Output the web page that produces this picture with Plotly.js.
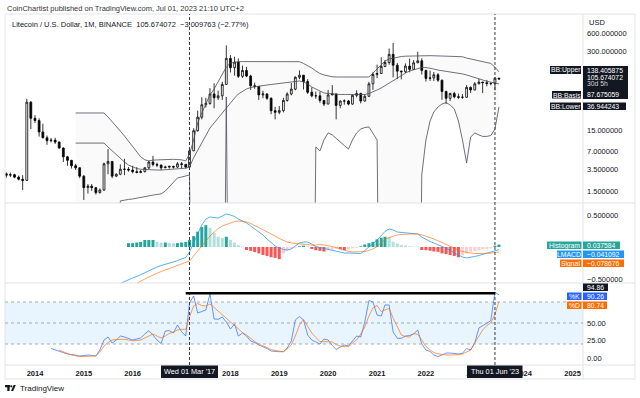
<!DOCTYPE html>
<html><head><meta charset="utf-8">
<script src="https://cdn.plot.ly/plotly-3.0.1.min.js"></script>
<style>html,body{margin:0;padding:0;background:#fff;}#chart{width:640px;height:398px;}</style>
</head><body><div id="chart"></div>
<script>
// ---------- categories: monthly bars Jun 2013 .. Jul 2023 ----------
const firstYear = 2013, firstMonth = 6, nMonths = 122;
const months = [];
for (let k = 0; k < nMonths; k++) { const m = firstMonth - 1 + k; months.push((firstYear + Math.floor(m / 12)) + '-' + String(m % 12 + 1).padStart(2, '0') + '-01'); }

// ---------- price (LTC/USD monthly) ----------
const opens = [2.95,2.80,2.85,2.60,2.40,2.30,44,24,22,14.3,
 11.5,10.3,10.5,9.8,7.8,5.6,4.9,4.0,3.7,2.7,
 1.75,1.85,1.75,1.45,1.6,4.3,4.7,2.7,2.9,3.5,
 3.5,3.4,3.2,3.1,3.2,3.7,4.6,4.2,4.1,3.7,
 3.8,3.9,3.8,4.3,4.2,3.8,7.0,15,25,40,
 42,60,52,56,86,230,162,200,117,146,
 118,82,80,58,60,51,32,30,32,47,
 60,72,113,122,96,64,56,56,47,41,
 58,60,39,46,46,41,57,61,46,55,
 88,125,130,170,197,268,178,142,139,172,
 152,195,210,146,108,110,124,101,66,51,
 61,54,53,53,77,70,88,94,92,89,
 89,109];
const highs = [3.1,3.1,2.95,2.75,2.8,50,46,27,24,19.5,
 12.5,11.4,11.5,10.0,8.0,5.8,5.0,4.3,3.8,2.8,
 2.0,2.0,1.8,1.7,4.5,7.5,4.8,3.0,4.2,5.2,
 3.8,4.0,3.8,3.4,3.8,4.8,5.8,4.5,4.2,4.0,
 4.0,4.0,4.6,4.6,4.3,7.8,16.5,32,53,52,
 75,90,68,95,375,260,245,230,175,167,
 124,92,80,68,62,53,37,38,52,64,
 91,117,146,123,105,77,66,66,48,70,
 84,61,47,49,48,58,69,63,60,95,
 136,182,240,217,334,413,194,146,190,228,
 216,295,231,150,145,138,132,103,68,63,
 65,61,60,84,80,94,106,96,102,93,
 113,110];
const lows = [2.55,2.6,2.5,2.3,1.6,2.25,16,20,12,11.2,
 8.8,9.7,9.1,7.6,4.6,4.0,3.6,3.4,2.5,1.1,
 1.4,1.55,1.35,1.4,1.55,2.9,2.5,2.6,2.8,2.8,
 3.2,3.0,3.0,3.0,3.1,3.5,3.9,3.8,3.4,3.7,
 3.6,3.6,3.7,3.6,3.6,3.7,7.0,14.5,23,36,
 40,35,48,48,85,135,120,110,110,113,
 70,73,48,51,48,28,23,28,30,45,
 57,69,105,71,60,53,50,43,38,41,
 57,23,35,40,39,40,53,42,45,54,
 70,110,128,165,181,112,105,104,132,136,
 148,192,125,96,98,98,95,48,41,46,
 51,50,50,52,62,69,87,62,80,83,
 69,104];
const closes = [2.80,2.85,2.60,2.40,2.30,44,24,22,14.3,11.5,
 10.3,10.5,9.8,7.8,5.6,4.9,4.0,3.7,2.7,1.75,
 1.85,1.75,1.45,1.6,4.3,4.7,2.7,2.9,3.5,3.5,
 3.4,3.2,3.1,3.2,3.7,4.6,4.2,4.1,3.7,3.8,
 3.9,3.8,4.3,4.2,3.8,7.0,15,25,40,42,
 60,52,56,86,230,162,200,117,146,118,
 82,80,58,60,51,32,30,32,47,60,
 72,113,122,96,64,56,56,47,41,58,
 60,39,46,46,41,57,61,46,55,88,
 125,130,170,197,268,178,142,139,172,152,
 195,210,146,108,110,124,101,66,51,61,
 54,53,53,77,70,88,94,92,89,89,
 109,105.674072];

// ---------- Bollinger Bands (from Nov 2014) ----------
const bbStart = 17;
const belowFloor = 1e-6; // band below the chart floor (negative on a log scale)
const F0 = belowFloor;
const bbUpper = [29.3,29.3,29.3,29.3,29.3,29.3,29.3,29.3,25.2,20.8,
 17.3,14.8,12.3,10.2,8.1,6.7,5.6,5.0,4.8,4.95,
 5.0,5.0,5.05,5.1,5.1,5.05,5.0,4.8,6.2,10.6,
 20.1,29.3,41.1,57.8,72.4,94.4,123,166,193,201,
 203,204,204,205,205,204,204,203,203,203,
 202,202,202,203,203,203,190,175,160,143,
 130,123,118,115,114,114,114,114,114,114,
 114,114,114,132,154,186,208,225,233,240,
 247,250,252,254,255,255,255,255,254,253,
 252,250,249,248,247,245,233,225,221,212,
 205,197,190,165,138.405875];
const bbBasis = [9.4,9.4,9.4,9.4,9.4,9.4,9.4,9.4,8.1,7.0,
 6.0,5.15,4.6,4.1,3.81,3.6,3.5,3.45,3.42,3.4,
 3.4,3.4,3.42,3.45,3.5,3.55,3.6,3.65,3.81,5.4,
 7.2,9.4,12.8,16.6,20.1,24.3,29.3,35.4,42.7,51.6,
 60,67.2,72.4,76.7,79,81.2,82.7,84.3,85.9,87.5,
 90.9,92.7,94.4,96,98,98,94.4,87.5,78.2,72.4,
 65.9,62.3,61.1,60,58.9,58.9,58.9,58.9,58.9,58.9,
 58.9,58.9,61.1,64.7,69.8,75.2,82.1,90.9,102,112,
 123,132,143,148,157,163,163,160,154,148,
 145,140,138,135,132,128,123,118,114,108,
 102,97,93,90,87.675059];
const bbLower = [F0,F0,F0,F0,F0,F0,F0,F0,F0,F0,
 F0,1.06,1.10,1.12,1.14,1.18,1.23,1.25,1.28,1.32,
 1.35,1.38,1.54,1.79,2.16,2.52,2.61,2.72,2.82,F0,
 F0,F0,F0,F0,F0,F0,F0,53.6,F0,F0,
 F0,F0,F0,F0,F0,F0,F0,F0,F0,F0,
 F0,F0,F0,F0,F0,F0,F0,F0,F0,8.1,
 7.0,10.6,13.8,12.8,11.4,9.8,8.6,7.5,10.6,13.8,
 16.0,16.9,17.3,13.8,10.6,F0,F0,F0,F0,F0,
 F0,F0,F0,F0,F0,2.82,10.6,21.6,30.4,36.7,
 41.1,43.5,39.6,34.1,21.6,10.6,4.44,11.8,13.8,12.8,
 12.1,12.1,12.5,16.0,36.944243];

// ---------- LMACD ----------
const macdStart = 28, signalStart = 32, histStart = 30;
const macdLine = [-0.57,-0.539,-0.516,-0.484,-0.461,-0.430,-0.406,-0.367,-0.336,-0.313,
 -0.289,-0.273,-0.258,-0.234,-0.211,-0.188,-0.164,-0.078,0.063,0.219,
 0.344,0.438,0.469,0.461,0.453,0.484,0.516,0.500,0.477,0.438,
 0.406,0.375,0.328,0.281,0.234,0.188,0.125,0.070,0.016,-0.016,
 -0.039,-0.047,-0.031,0.016,0.063,0.078,0.078,0.047,0.008,-0.008,
 -0.023,-0.039,-0.047,-0.063,-0.086,-0.094,-0.094,-0.094,-0.094,-0.102,
 -0.055,0.008,0.055,0.109,0.172,0.242,0.281,0.266,0.234,0.227,
 0.219,0.211,0.211,0.203,0.156,0.117,0.086,0.063,0.039,0.008,
 -0.023,-0.047,-0.094,-0.125,-0.156,-0.172,-0.164,-0.148,-0.133,-0.117,
 -0.094,-0.078,-0.055,-0.041092];
const signalLine = [-0.57,-0.531,-0.5,-0.469,-0.438,-0.406,-0.383,-0.359,-0.336,-0.313,
 -0.289,-0.266,-0.242,-0.219,-0.141,-0.063,0.016,0.094,0.172,0.234,
 0.289,0.328,0.352,0.375,0.398,0.406,0.398,0.391,0.367,0.336,
 0.305,0.273,0.242,0.203,0.172,0.133,0.102,0.078,0.063,0.055,
 0.047,0.039,0.031,0.031,0.031,0.039,0.031,0.023,0.008,-0.008,
 -0.031,-0.055,-0.070,-0.078,-0.078,-0.078,-0.070,-0.055,-0.031,0.008,
 0.063,0.117,0.148,0.172,0.188,0.195,0.203,0.203,0.203,0.203,
 0.188,0.172,0.148,0.125,0.102,0.070,0.039,0.008,-0.023,-0.047,
 -0.070,-0.086,-0.094,-0.102,-0.102,-0.102,-0.102,-0.097,-0.086,-0.078676];
const macdHist = [0.06,0.06,0.07,0.08,0.11,0.11,0.11,0.08,0.07,0.07,
 0.065,0.06,0.06,0.07,0.08,0.11,0.17,0.24,0.31,0.34,
 0.30,0.22,0.16,0.14,0.16,0.11,0.07,0.03,0.005,-0.047,
 -0.06,-0.08,-0.10,-0.125,-0.14,-0.16,-0.17,-0.19,-0.10,-0.06,
 -0.03,-0.01,0.01,0.02,0.01,-0.03,-0.05,-0.06,-0.07,-0.05,
 -0.04,-0.03,-0.035,-0.05,-0.04,-0.02,-0.01,0.01,0.04,0.06,
 0.08,0.12,0.145,0.16,0.15,0.08,0.055,0.03,0.02,0.012,
 0.008,0.005,-0.047,-0.05,-0.058,-0.07,-0.075,-0.10,-0.11,-0.125,
 -0.14,-0.16,-0.13,-0.10,-0.075,-0.06,-0.05,-0.035,-0.03,-0.02,
 0.02,0.037584];

// ---------- Stoch RSI ----------
const kStart = 11, dStart = 13;
const stochK = [13.6,11.4,9.3,7.1,5.7,5.0,3.6,2.9,3.6,4.3,
 3.6,2.9,11.4,25.7,30,21.4,25.7,31.4,30,27.9,
 25.7,27.1,28.6,34.3,39,32.9,25.7,20.7,38.6,39,
 35.7,47.1,37.6,31.4,78.6,88.6,64.3,66.4,68.6,91.4,
 55.7,55.3,58.6,51.4,41.4,48.6,31.4,35.7,31.4,24.3,
 22.1,18.6,16.4,13.6,10,9,9,9,14.3,24.3,
 54.3,59.3,54.3,32.9,25.7,22.9,20,27.1,25.7,17.9,
 12.1,15.7,18.6,17.1,24.3,31.4,30,51.4,82.1,80,
 61.4,60,75.7,75.7,37.1,28.1,28.1,31.4,32.1,34.3,
 40,20,11.4,9.3,4.3,2.1,4.3,7.1,7.1,6.4,
 5.7,6.7,13.6,11.4,21.4,42.9,46.4,50,53.3,94.0,90.26];
const stochD = [11.4,8.6,6.4,4.3,2.9,2.1,2.1,2.4,2.9,2.9,
 8.6,17.1,22.1,25.7,26.4,26.7,26.7,25.7,24.7,25,
 25.7,28.6,31.4,34.3,31.4,28.6,31.4,35,37.1,40,
 41,41,58.6,74.3,77.9,75,74.3,77.1,72.1,67.1,
 62.1,57.1,51.4,47.1,41.4,36.4,32.9,27.9,23.6,20,
 17.1,14.3,12.1,10.7,9.3,9,12.9,18.6,31.4,47.1,
 55,44.3,35.7,29.3,23.6,23.3,23.3,22.9,19.3,17.1,
 16.4,16.1,21.4,25.7,34.3,44.3,60,71.4,75,66.4,
 68.6,70.7,57.1,44.3,32.9,30.7,30,35,33.6,25.7,
 16.4,11.4,7.9,6.1,5,4.3,4.3,4.3,4.7,5.7,
 8.6,11.4,21.4,31.4,40,46.4,50.4,62.1,80.74];

// ---------- ticks (2017 label sits under the date box, as in the reference) ----------
const yearTicks = ['2014','2015','2016','2017','2018','2019','2020','2021','2022','2023','2024','2025'];
const yearTickText = ['2014','2015','2016','','2018','2019','2020','2021','2022','2023','2024','2025'];
const priceTicks = [1.5,3.5,7,15,300,600];
const macdTicks = [0.5,-0.5];
const macdTickText = ['0.500000','\u22120.500000'];
const stochTicks = [0,25,50];

// ---------- sanity ----------
const lens = {o:opens.length,h:highs.length,l:lows.length,c:closes.length,bu:bbUpper.length,bb:bbBasis.length,bl:bbLower.length,
  m:macdLine.length,s:signalLine.length,hi:macdHist.length,k:stochK.length,d:stochD.length};
const want = {o:122,h:122,l:122,c:122,bu:105,bb:105,bl:105,m:94,s:90,hi:92,k:111,d:109};
for (const key in want) if (lens[key] !== want[key]) throw new Error('length mismatch ' + JSON.stringify(lens));

// ---------- helpers ----------
const W = 640, H = 398;
const px = x => x / W, py = y => 1 - y / H;
const FONT = 'Liberation Sans, Arial, sans-serif';

const histColors = macdHist.map((h, k) => {
  const p = k > 0 ? macdHist[k - 1] : 0;
  return h >= 0 ? (h >= p ? '#26a69a' : '#b2dfdb') : (h <= p ? '#ff5252' : '#ffcdd2');
});

const traces = [
  {type:'scatter', mode:'lines', x:months.slice(bbStart), y:bbLower, xaxis:'x', yaxis:'y',
   line:{color:'#4a4d57', width:0.8}, hoverinfo:'skip', showlegend:false},
  {type:'scatter', mode:'lines', x:months.slice(bbStart), y:bbUpper, xaxis:'x', yaxis:'y',
   line:{color:'#4a4d57', width:0.8}, fill:'tonexty', fillcolor:'rgba(120,123,134,0.035)', hoverinfo:'skip', showlegend:false},
  {type:'scatter', mode:'lines', x:months.slice(bbStart), y:bbBasis, xaxis:'x', yaxis:'y',
   line:{color:'#4a4d57', width:0.8}, hoverinfo:'skip', showlegend:false},
  {type:'candlestick', x:months, open:opens, high:highs, low:lows, close:closes, xaxis:'x', yaxis:'y',
   increasing:{line:{color:'#000000', width:0.8}, fillcolor:'#ffffff'},
   decreasing:{line:{color:'#000000', width:0.8}, fillcolor:'#000000'},
   whiskerwidth:0, hoverinfo:'skip', showlegend:false},
  {type:'bar', x:months.slice(histStart), y:macdHist, xaxis:'x', yaxis:'y2',
   marker:{color:histColors, line:{width:0}}, hoverinfo:'skip', showlegend:false},
  {type:'scatter', mode:'lines', x:months.slice(macdStart), y:macdLine, xaxis:'x', yaxis:'y2',
   line:{color:'#2196f3', width:0.9}, opacity:0.85, hoverinfo:'skip', showlegend:false},
  {type:'scatter', mode:'lines', x:months.slice(signalStart), y:signalLine, xaxis:'x', yaxis:'y2',
   line:{color:'#ff6d00', width:0.9}, opacity:0.7, hoverinfo:'skip', showlegend:false},
  {type:'scatter', mode:'lines', x:months.slice(kStart), y:stochK, xaxis:'x', yaxis:'y3',
   line:{color:'#2962ff', width:0.9}, opacity:0.75, hoverinfo:'skip', showlegend:false},
  {type:'scatter', mode:'lines', x:months.slice(dStart), y:stochD, xaxis:'x', yaxis:'y3',
   line:{color:'#ff6d00', width:0.9}, opacity:0.75, hoverinfo:'skip', showlegend:false}
];

const tickFont = {family:FONT, size:7.5, color:'#131722'};
const baseY = {showgrid:false, zeroline:false, showline:false, ticks:'', side:'right', anchor:'x',
  tickfont:tickFont, ticklabelstandoff:3, fixedrange:true};

const shapes = [];
const gray = '#e0e3eb';
function pline(x0, y0, x1, y1, color, width, dash) {
  shapes.push({type:'line', xref:'paper', yref:'paper', x0:px(x0), y0:py(y0), x1:px(x1), y1:py(y1),
    line:{color:color, width:width, dash:dash || 'solid'}});
}
function box(x0, x1, y0, y1, color) {
  shapes.push({type:'rect', xref:'paper', yref:'paper', x0:px(x0), x1:px(x1), y0:py(y1), y1:py(y0),
    fillcolor:color, line:{width:0}, layer:'above'});
}
// frame and separators
shapes.push({type:'rect', xref:'paper', yref:'paper', x0:px(5), x1:px(635), y0:py(379), y1:py(14), line:{color:gray, width:1}, fillcolor:'rgba(0,0,0,0)'});
pline(5, 203, 635, 203, gray, 1);
pline(5, 283, 635, 283, gray, 1);
pline(5, 365, 635, 365, gray, 1);
pline(583, 14, 583, 379, gray, 1);
// stoch band and levels
shapes.push({type:'rect', xref:'x domain', yref:'y3', x0:0, x1:1, y0:20, y1:80, fillcolor:'rgba(33,150,243,0.10)', line:{width:0}, layer:'below'});
[20, 50, 80].forEach(v => shapes.push({type:'line', xref:'x domain', yref:'y3', x0:0, x1:1, y0:v, y1:v,
  line:{color:'#9598a1', width:0.8, dash:'3px,3px'}}));
// vertical dashed markers
['2017-03-01', '2023-06-01'].forEach(d => shapes.push({type:'line', xref:'x', yref:'paper', x0:d, x1:d, y0:py(365), y1:py(14),
  line:{color:'#363a45', width:1, dash:'3px,2px'}}));
// horizontal trend line in stoch pane
shapes.push({type:'line', xref:'x', yref:'y3', x0:'2017-02-01', x1:'2023-06-01', y0:92.5, y1:92.5, line:{color:'#000000', width:2.5}});
// TradingView logo mark
const dark = '#131722';
box(5, 10, 385, 387.3, dark);
box(7.3, 9.6, 385, 391, dark);
shapes.push({type:'circle', xref:'paper', yref:'paper', x0:px(10.2), x1:px(12.4), y0:py(387.4), y1:py(385.2), fillcolor:dark, line:{width:0}});
shapes.push({type:'path', xref:'paper', yref:'paper',
  path:'M ' + px(13.6) + ',' + py(385) + ' L ' + px(15.8) + ',' + py(385) + ' L ' + px(13.2) + ',' + py(391) + ' L ' + px(11) + ',' + py(391) + ' Z',
  fillcolor:dark, line:{width:0}});

const ann = [];
function txt(x, y, text, o) {
  o = o || {};
  ann.push({xref:'paper', yref:'paper', x:px(x), y:py(y), text:text, showarrow:false,
    xanchor:o.xa || 'left', yanchor:'middle', align:o.xa === 'center' ? 'center' : 'left',
    font:{family:FONT, size:o.size || 7.5, color:o.color || '#131722', weight:o.weight || 'normal'}});
}
function tag(x0, x1, y0, y1, text, bg, xa) {
  box(x0, x1, y0, y1, bg);
  if (xa === 'center') txt((x0 + x1) / 2, (y0 + y1) / 2 + 0.3, text, {xa:'center', size:6.8, color:'#ffffff'});
  else txt(x0 + 2, (y0 + y1) / 2 + 0.3, text, {size:6.8, color:'#ffffff'});
}
txt(5, 8.5, 'CoinChartist published on TradingView.com, Jul 01, 2023 21:10 UTC+2', {size:7.5, color:'#333333'});
txt(10, 24, 'Litecoin / U.S. Dollar, 1M, BINANCE\u00a0\u00a0105.674072\u00a0\u00a0\u22123.009763 (\u22122.77%)', {size:7.5});
txt(587, 22, 'USD', {size:7.5});

// price pane tags
tag(550, 581, 66, 74, 'BB:Upper', dark, 'center');
box(583, 628, 66, 99, dark);
txt(585, 70, '138.405875', {size:6.8, color:'#ffffff'});
txt(585, 77.3, '105.674072', {size:6.8, color:'#ffffff'});
txt(585, 83.6, '30d 5h', {size:6.8, color:'#d1d4dc'});
tag(552, 581, 91, 98.5, 'BB:Basis', dark, 'center');
txt(585, 95, '87.675059', {size:6.8, color:'#ffffff'});
tag(550, 581, 102.5, 110, 'BB:Lower', dark, 'center');
tag(583, 626, 102.5, 110, '36.944243', dark);
// MACD tags
tag(547, 581.5, 241.5, 249, 'Histogram', '#26a69a', 'center');
tag(583, 620, 241.5, 249, '0.037584', '#26a69a');
tag(557, 581.5, 250.5, 258, 'LMACD', '#2196f3', 'center');
tag(583, 624, 250.5, 258, '\u22120.041092', '#2196f3');
tag(560, 581.5, 259.5, 267, 'Signal', '#ff6d00', 'center');
tag(583, 624, 259.5, 267, '\u22120.078676', '#ff6d00');
// Stoch tags
tag(583, 608, 283.5, 291, '94.86', dark);
tag(567, 581.5, 292.5, 300, '%K', '#2962ff', 'center');
tag(583, 607, 292.5, 300, '90.26', '#2962ff');
tag(567, 581.5, 301.5, 309, '%D', '#ff6d00', 'center');
tag(583, 607, 301.5, 309, '80.74', '#ff6d00');
// date boxes
box(161, 218, 365.5, 378, dark);
txt(189.5, 371.8, "Wed 01 Mar '17", {xa:'center', size:7.3, color:'#ffffff'});
box(467, 522.5, 365.5, 378, dark);
txt(494.8, 371.8, "Thu 01 Jun '23", {xa:'center', size:7.3, color:'#ffffff'});
// logo text
txt(17.5, 388.3, 'TradingView', {size:8, color:'#131722'});

const layout = {
  width:W, height:H, margin:{l:0, r:0, t:0, b:0}, autosize:false,
  paper_bgcolor:'#ffffff', plot_bgcolor:'rgba(0,0,0,0)', showlegend:false,
  bargap:0.2, hovermode:false,
  xaxis:{domain:[px(5), px(583)], type:'date', range:['2013-05-22', '2025-03-20'], anchor:'y3',
    tickvals:yearTicks.map(y => y + '-01-01'), ticktext:yearTickText, ticks:'', showgrid:false, zeroline:false, showline:false,
    tickfont:{family:FONT, size:7.5, color:'#131722', weight:'bold'}, ticklabelstandoff:2, rangeslider:{visible:false}, fixedrange:true},
  yaxis:Object.assign({}, baseY, {domain:[py(203), py(14)], type:'log', range:[-0.0089, 3.0895],
    tickvals:priceTicks, ticktext:priceTicks.map(v => v.toFixed(6))}),
  yaxis2:Object.assign({}, baseY, {domain:[py(283), py(203)], range:[-0.5625, 0.6875],
    tickvals:macdTicks, ticktext:macdTickText}),
  yaxis3:Object.assign({}, baseY, {domain:[py(365), py(283)], range:[-10, 107.14],
    tickvals:stochTicks, ticktext:stochTicks.map(v => v.toFixed(2))}),
  shapes:shapes, annotations:ann
};

Plotly.newPlot('chart', traces, layout, {staticPlot:true, displayModeBar:false});
</script>
</body></html>
